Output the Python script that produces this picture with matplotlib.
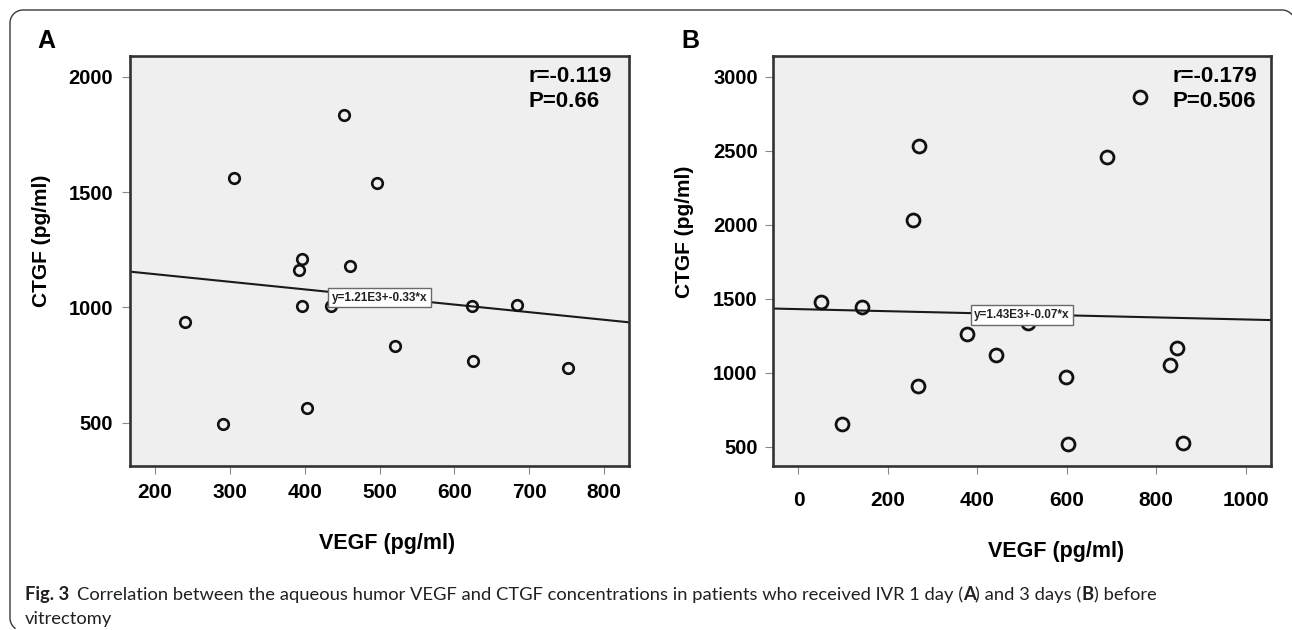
import numpy as np
import matplotlib
matplotlib.use("Agg")
import matplotlib.pyplot as plt
from matplotlib.patches import PathPatch
from matplotlib.path import Path
from matplotlib.transforms import IdentityTransform, blended_transform_factory
from matplotlib import font_manager

# ---------------- data ----------------
A_vegf = [240, 291, 306, 396, 393, 396, 403, 435, 452, 461, 496, 521, 624, 625, 683, 751]
A_ctgf = [935, 495, 1562, 1211, 1160, 1007, 562, 1008, 1834, 1180, 1541, 831, 1007, 769, 1009, 735]
A_fit = [1210, -0.33]          # intercept, slope
A_fit_label = "y=1.21E3+-0.33*x"
A_stats = ["r=-0.119", "P=0.66"]
A_xticks = [200, 300, 400, 500, 600, 700, 800]
A_yticks = [500, 1000, 1500, 2000]

B_vegf = [51, 97, 143, 257, 270, 268, 377, 442, 513, 599, 602, 691, 763, 831, 847, 860]
B_ctgf = [1478, 650, 1447, 2036, 2534, 911, 1261, 1121, 1338, 969, 517, 2459, 2863, 1051, 1167, 524]
B_fit = [1430, -0.07]
B_fit_label = "y=1.43E3+-0.07*x"
B_stats = ["r=-0.179", "P=0.506"]
B_xticks = [0, 200, 400, 600, 800, 1000]
B_yticks = [500, 1000, 1500, 2000, 2500, 3000]

xlabel = "VEGF (pg/ml)"
ylabel = "CTGF (pg/ml)"
caption_segments = [
    ("Correlation between the aqueous humor VEGF and CTGF concentrations in patients who received IVR 1 day (", "normal"),
    ("A", "bold"),
    (") and 3 days (", "normal"),
    ("B", "bold"),
    (") before", "normal"),
]
caption_line2 = "vitrectomy"

# ---------------- figure ----------------
W, H = 1292, 630
DPI = 100
fig = plt.figure(figsize=(W / DPI, H / DPI), dpi=DPI)
fig.patch.set_facecolor("white")

SANS = "Liberation Sans"
names = {f.name for f in font_manager.fontManager.ttflist}
CAP_FONT = "Lato" if "Lato" in names else "DejaVu Sans"


def fx(px):
    return px / W


def fy(py):
    return 1 - py / H


def make_axes(left, right, top, bottom):
    return fig.add_axes([fx(left), fy(bottom), fx(right) - fx(left), fy(top) - fy(bottom)])


axA = make_axes(130, 629, 56, 466)
axB = make_axes(773, 1271, 56, 466)


def style_axes(ax, xlim, ylim, xticks, yticks, xpad, ypad, ms, mew, vegf, ctgf, fit, fit_label, fit_y):
    ax.set_facecolor("#efefef")
    ax.set_xlim(*xlim)
    ax.set_ylim(*ylim)
    ax.set_xticks(xticks)
    ax.set_yticks(yticks)
    ax.set_xticklabels([str(v) for v in xticks], fontsize=15, fontweight="bold", family=SANS)
    ax.set_yticklabels([str(v) for v in yticks], fontsize=14.5, fontweight="bold", family=SANS)
    ax.tick_params(axis="both", direction="out", length=6, width=0.8, color="#8a8a8a")
    ax.tick_params(axis="x", pad=xpad)
    ax.tick_params(axis="y", pad=ypad)
    for s in ax.spines.values():
        s.set_linewidth(1.9)
        s.set_color("#333333")
    ax.axline((0, fit[0]), slope=fit[1], color="#1a1a1a", lw=1.5, zorder=2)
    ax.plot(vegf, ctgf, linestyle="none", marker="o", ms=ms, mew=mew,
            mfc="none", mec="#111111", zorder=3)
    ax.text(0.5, fit_y, fit_label,
            transform=blended_transform_factory(ax.transAxes, ax.transData),
            ha="center", va="center", fontsize=8.5, fontweight="bold", family=SANS, color="#222222",
            zorder=5,
            bbox=dict(boxstyle="square,pad=0.3", fc="white", ec="#6a6a6a", lw=1.0))


style_axes(axA, (167, 833), (312, 2090), A_xticks, A_yticks, 6, 6, 7.6, 1.9,
           A_vegf, A_ctgf, A_fit, A_fit_label, 1042)
style_axes(axB, (-57, 1057), (369, 3142), B_xticks, B_yticks, 12, 5, 9.3, 2.0,
           B_vegf, B_ctgf, B_fit, B_fit_label, 1390)

# stats text
for left, stats in ((528, A_stats), (1173, B_stats)):
    fig.text(fx(left), fy(82), stats[0], fontsize=16, fontweight="bold", family=SANS,
             ha="left", va="baseline")
    fig.text(fx(left), fy(107), stats[1], fontsize=16, fontweight="bold", family=SANS,
             ha="left", va="baseline")

# panel letters
fig.text(fx(37), fy(48), "A", fontsize=18, fontweight="bold", family=SANS, ha="left", va="baseline")
fig.text(fx(681), fy(48), "B", fontsize=18, fontweight="bold", family=SANS, ha="left", va="baseline")

# axis labels
fig.text(fx(387), fy(544), xlabel, fontsize=15.5, fontweight="bold", family=SANS, ha="center", va="center")
fig.text(fx(1056), fy(551), xlabel, fontsize=15.5, fontweight="bold", family=SANS, ha="center", va="center")
fig.text(fx(41.5), fy(241), ylabel, fontsize=15, fontweight="bold", family=SANS, ha="center",
         va="center", rotation=90)
fig.text(fx(684), fy(232), ylabel, fontsize=15, fontweight="bold", family=SANS, ha="center",
         va="center", rotation=90)

# caption
renderer = fig.canvas.get_renderer()


def draw_caption(fs):
    arts = []
    x = 25
    t = fig.text(fx(x), fy(600), "Fig. 3", fontsize=fs, fontweight="bold", family=CAP_FONT,
                 ha="left", va="baseline", color="#231f20")
    arts.append(t)
    x += t.get_window_extent(renderer).width + fs * 0.55
    for txt, wt in caption_segments:
        t = fig.text(fx(x), fy(600), txt, fontsize=fs, fontweight=wt, family=CAP_FONT,
                     ha="left", va="baseline", color="#231f20")
        arts.append(t)
        x += t.get_window_extent(renderer).width
    t = fig.text(fx(25), fy(624), caption_line2, fontsize=fs, family=CAP_FONT,
                 ha="left", va="baseline", color="#231f20")
    arts.append(t)
    return arts, x


arts, xend = draw_caption(12)
scale = (1150 - 25) / (xend - 25)
for a in arts:
    a.remove()
draw_caption(12 * scale)


# rounded frame: only the parts that lie inside the picture (display pixels, y up)
def arc_pts(cx, cy, r, a0, a1, n=20):
    t = np.radians(np.linspace(a0, a1, n))
    return list(zip(cx + r * np.cos(t), cy + r * np.sin(t)))


R = 13
pts = []
pts += arc_pts(10 + R, H - 618, R, 235, 180)         # bottom-left corner start
pts += [(10, H - 10 - R)]                            # left edge
pts += arc_pts(10 + R, H - 10 - R, R, 180, 90)       # top-left corner
pts += [(1282, H - 10)]                              # top edge
pts += arc_pts(1282, H - 10 - R, R, 90, 38)          # top-right corner (cut by edge)
frame = PathPatch(Path(pts), transform=IdentityTransform(), fill=False,
                  ec="#3a3a3a", lw=1.0)
fig.patches.append(frame)

fig.savefig("out.png", dpi=DPI)
